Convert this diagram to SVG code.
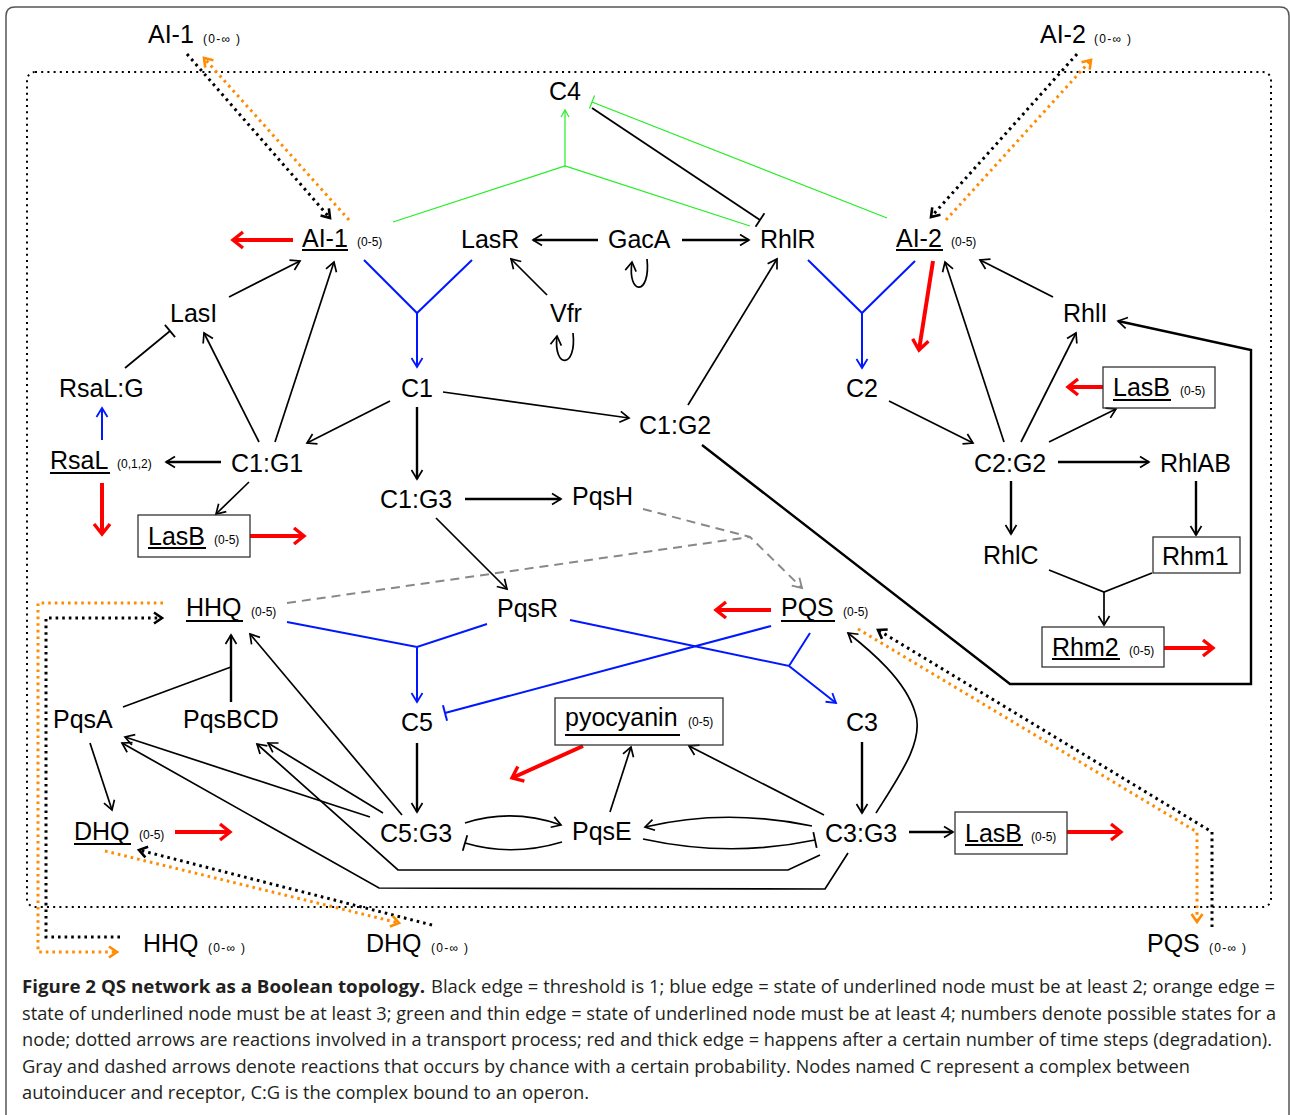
<svg xmlns="http://www.w3.org/2000/svg" width="1290" height="1115" viewBox="0 0 1290 1115">
<style>
.n{font-family:"Liberation Sans",Arial,sans-serif;font-size:25px;fill:#000}
.s{font-family:"Liberation Sans",Arial,sans-serif;font-size:12px;fill:#000}
.ul{stroke:#000;stroke-width:2}
.box{fill:none;stroke:#333;stroke-width:1.3}
.k{fill:none;stroke:#000;stroke-width:1.7}
.kk{fill:none;stroke:#000;stroke-width:2.4}
.b{fill:none;stroke:#0018ff;stroke-width:2}
.r{fill:none;stroke:#ff0000;stroke-width:4}
.g{fill:none;stroke:#22ee22;stroke-width:1.2}
.gy{fill:none;stroke:#888;stroke-width:2;stroke-dasharray:9 6}
.dk{fill:none;stroke:#000;stroke-width:3;stroke-dasharray:2.6 4}
.do{fill:none;stroke:#ff8c00;stroke-width:3;stroke-dasharray:2.6 4}
.cap{font-family:"Open Sans","Noto Sans",sans-serif;font-size:18px;fill:#231f20}
</style>
<defs>
<marker id="ak" markerUnits="userSpaceOnUse" orient="auto" refX="0" refY="0" markerWidth="20" markerHeight="20" overflow="visible"><path d="M-9,-5.5 L0,0 L-9,5.5" fill="none" stroke="#000" stroke-width="1.7"/></marker>
<marker id="ab" markerUnits="userSpaceOnUse" orient="auto" refX="0" refY="0" markerWidth="20" markerHeight="20" overflow="visible"><path d="M-9,-5.5 L0,0 L-9,5.5" fill="none" stroke="#0018ff" stroke-width="1.8"/></marker>
<marker id="ar" markerUnits="userSpaceOnUse" orient="auto" refX="0" refY="0" markerWidth="20" markerHeight="20" overflow="visible"><path d="M-10,-8 L0,0 L-10,8" fill="none" stroke="#ff0000" stroke-width="3.4"/></marker>
<marker id="ag" markerUnits="userSpaceOnUse" orient="auto" refX="0" refY="0" markerWidth="20" markerHeight="20" overflow="visible"><path d="M-7,-4 L0,0 L-7,4" fill="none" stroke="#22ee22" stroke-width="1.2"/></marker>
<marker id="agy" markerUnits="userSpaceOnUse" orient="auto" refX="0" refY="0" markerWidth="20" markerHeight="20" overflow="visible"><path d="M-9,-5.5 L0,0 L-9,5.5" fill="none" stroke="#888" stroke-width="1.8"/></marker>
<marker id="adk" markerUnits="userSpaceOnUse" orient="auto" refX="0" refY="0" markerWidth="20" markerHeight="20" overflow="visible"><path d="M-8,-5.5 L0,0 L-8,5.5" fill="none" stroke="#000" stroke-width="2.6"/></marker>
<marker id="ado" markerUnits="userSpaceOnUse" orient="auto" refX="0" refY="0" markerWidth="20" markerHeight="20" overflow="visible"><path d="M-8,-5.5 L0,0 L-8,5.5" fill="none" stroke="#ff8c00" stroke-width="2.6"/></marker>
<marker id="tk" markerUnits="userSpaceOnUse" orient="auto" refX="0" refY="0" markerWidth="20" markerHeight="20" overflow="visible"><path d="M0,-8 L0,8" fill="none" stroke="#000" stroke-width="1.8"/></marker>
<marker id="tb" markerUnits="userSpaceOnUse" orient="auto" refX="0" refY="0" markerWidth="20" markerHeight="20" overflow="visible"><path d="M0,-8 L0,8" fill="none" stroke="#0018ff" stroke-width="2"/></marker>
<marker id="tg" markerUnits="userSpaceOnUse" orient="auto" refX="0" refY="0" markerWidth="20" markerHeight="20" overflow="visible"><path d="M0,-7 L0,7" fill="none" stroke="#22ee22" stroke-width="1.2"/></marker>
</defs>
<rect width="1290" height="1115" fill="#fff"/>
<path d="M6,1115 L6,16 Q6,7 15,7 L1280,7 Q1289,7 1289,16 L1289,1115" fill="none" stroke="#555" stroke-width="1.5"/>
<rect x="27" y="72" width="1244" height="835" rx="8" fill="none" stroke="#000" stroke-width="2" stroke-dasharray="2 4.2"/>

<g id="connectors">
<path class="dk" d="M187,54 L330,218" marker-end="url(#adk)"/>
<path class="do" d="M349,220 L204,58" marker-end="url(#ado)"/>
<path class="dk" d="M1077,54 L931,217" marker-end="url(#adk)"/>
<path class="do" d="M946,220 L1091,60" marker-end="url(#ado)"/>
<path class="dk" d="M120,937 L46,937 L46,618 L162,618" marker-end="url(#adk)"/>
<path class="do" d="M163,603 L38,603 L38,952 L117,952" marker-end="url(#ado)"/>
<path class="dk" d="M432,925 L139,850" marker-end="url(#adk)"/>
<path class="do" d="M105,851 L399,923" marker-end="url(#ado)"/>
<path class="dk" d="M1212,927 L1212,832 L878,630" marker-end="url(#adk)"/>
<path class="do" d="M858,629 L1197,832 L1197,922" marker-end="url(#ado)"/>
<path class="g" d="M393,222 L565,166 L750,226"/>
<path class="g" d="M565,166 L565,110" marker-end="url(#ag)"/>
<path class="g" d="M887,218 L592,102" marker-end="url(#tg)"/>
<path class="k" d="M592,108 L760,220" marker-end="url(#tk)"/>
<path class="kk" d="M598,240 L533,240" marker-end="url(#ak)"/>
<path class="kk" d="M682,240 L749,240" marker-end="url(#ak)"/>
<path class="k" d="M547,295 L511,259" marker-end="url(#ak)"/>
<path class="k" d="M647,259 C651,296 627,296 632,262" marker-end="url(#ak)"/>
<path class="k" d="M573,333 C577,369 553,369 557,336" marker-end="url(#ak)"/>
<path class="b" d="M364,260 L417,313 L472,260 M417,313 L417,367" marker-end="url(#ab)"/>
<path class="b" d="M808,260 L862,313 L915,261 M862,313 L862,368" marker-end="url(#ab)"/>
<path class="b" d="M287,622 L417,647 L487,624 M417,647 L417,702" marker-end="url(#ab)"/>
<path class="b" d="M570,620 L789,666 L810,633 M789,666 L836,703" marker-end="url(#ab)"/>
<path class="b" d="M771,626 L445,713" marker-end="url(#tb)"/>
<path class="b" d="M102,440 L102,408" marker-end="url(#ab)"/>
<path class="r" d="M293,240 L233,240" marker-end="url(#ar)"/>
<path class="r" d="M933,261 L919,350" marker-end="url(#ar)"/>
<path class="r" d="M102,483 L102,534" marker-end="url(#ar)"/>
<path class="r" d="M250,536 L304,536" marker-end="url(#ar)"/>
<path class="r" d="M1103,387 L1068,387" marker-end="url(#ar)"/>
<path class="r" d="M1164,648 L1213,648" marker-end="url(#ar)"/>
<path class="r" d="M771,610 L716,610" marker-end="url(#ar)"/>
<path class="r" d="M583,746 L512,778" marker-end="url(#ar)"/>
<path class="r" d="M175,832 L230,832" marker-end="url(#ar)"/>
<path class="r" d="M1067,832 L1121,832" marker-end="url(#ar)"/>
<path class="k" d="M229,297 L300,261" marker-end="url(#ak)"/>
<path class="k" d="M275,442 L334,262" marker-end="url(#ak)"/>
<path class="k" d="M259,442 L204,333" marker-end="url(#ak)"/>
<path class="k" d="M125,368 L170,331" marker-end="url(#tk)"/>
<path class="kk" d="M221,462 L166,462" marker-end="url(#ak)"/>
<path class="k" d="M249,482 L216,514" marker-end="url(#ak)"/>
<path class="k" d="M390,401 L307,443" marker-end="url(#ak)"/>
<path class="kk" d="M417,407 L417,479" marker-end="url(#ak)"/>
<path class="k" d="M443,392 L629,418" marker-end="url(#ak)"/>
<path class="k" d="M688,405 L777,259" marker-end="url(#ak)"/>
<path class="kk" d="M702,445 L1010,684 L1251,684 L1251,350 L1118,321" marker-end="url(#ak)"/>
<path class="kk" d="M465,499 L561,499" marker-end="url(#ak)"/>
<path class="k" d="M436,518 L507,589" marker-end="url(#ak)"/>
<path class="gy" d="M643,509 L750,537 L802,588" marker-end="url(#agy)"/>
<path class="gy" d="M287,603 L750,537"/>
<path class="k" d="M889,401 L973,443" marker-end="url(#ak)"/>
<path class="k" d="M1004,442 L945,262" marker-end="url(#ak)"/>
<path class="k" d="M1021,442 L1076,333" marker-end="url(#ak)"/>
<path class="k" d="M1053,297 L980,260" marker-end="url(#ak)"/>
<path class="k" d="M1049,442 L1116,409" marker-end="url(#ak)"/>
<path class="kk" d="M1058,462 L1149,462" marker-end="url(#ak)"/>
<path class="kk" d="M1011,481 L1011,534" marker-end="url(#ak)"/>
<path class="kk" d="M1196,481 L1196,535" marker-end="url(#ak)"/>
<path class="k" d="M1049,570 L1104,592 L1152,573 M1104,592 L1104,625" marker-end="url(#ak)"/>
<path class="kk" d="M231,702 L231,635" marker-end="url(#ak)"/>
<path class="k" d="M123,707 L231,667"/>
<path class="k" d="M402,815 L250,634" marker-end="url(#ak)"/>
<path class="k" d="M383,813 L268,743" marker-end="url(#ak)"/>
<path class="k" d="M820,855 L788,870 L398,870 L257,744" marker-end="url(#ak)"/>
<path class="k" d="M370,817 L125,737" marker-end="url(#ak)"/>
<path class="k" d="M848,853 L825,889 L379,888 L122,743" marker-end="url(#ak)"/>
<path class="k" d="M90,743 L112,810" marker-end="url(#ak)"/>
<path class="kk" d="M417,743 L417,812" marker-end="url(#ak)"/>
<path class="k" d="M465,823 Q512,808 561,825" marker-end="url(#ak)"/>
<path class="k" d="M562,842 Q512,857 465,843" marker-end="url(#tk)"/>
<path class="k" d="M812,826 Q725,808 645,827" marker-end="url(#ak)"/>
<path class="k" d="M643,839 Q730,858 815,840" marker-end="url(#tk)"/>
<path class="k" d="M610,812 L631,747" marker-end="url(#ak)"/>
<path class="k" d="M824,815 L689,746" marker-end="url(#ak)"/>
<path class="kk" d="M862,742 L862,813" marker-end="url(#ak)"/>
<path class="k" d="M876,813 C900,775 925,740 915,712 C905,680 872,652 848,633" marker-end="url(#ak)"/>
<path class="kk" d="M909,832 L953,832" marker-end="url(#ak)"/>
</g>

<g id="AI1_ext"><text class="n" x="148" y="43">AI-1</text><text class="s" x="203" y="43" textLength="37" lengthAdjust="spacing">(0-∞ )</text></g>
<g id="AI2_ext"><text class="n" x="1040" y="43">AI-2</text><text class="s" x="1094" y="43" textLength="37" lengthAdjust="spacing">(0-∞ )</text></g>
<g id="C4"><text class="n" x="549" y="100">C4</text></g>
<g id="AI1"><text class="n" x="302" y="247">AI-1</text><line class="ul" x1="302" y1="250" x2="348" y2="250"/><text class="s" x="357" y="246">(0-5)</text></g>
<g id="LasR"><text class="n" x="461" y="248">LasR</text></g>
<g id="GacA"><text class="n" x="608" y="248">GacA</text></g>
<g id="RhlR"><text class="n" x="760" y="248">RhlR</text></g>
<g id="AI2"><text class="n" x="896" y="247">AI-2</text><line class="ul" x1="896" y1="250" x2="943" y2="250"/><text class="s" x="951" y="246">(0-5)</text></g>
<g id="LasI"><text class="n" x="170" y="322">LasI</text></g>
<g id="Vfr"><text class="n" x="550" y="322">Vfr</text></g>
<g id="RhlI"><text class="n" x="1063" y="322">RhlI</text></g>
<g id="RsaLG"><text class="n" x="59" y="397">RsaL:G</text></g>
<g id="C1"><text class="n" x="401" y="397">C1</text></g>
<g id="C2"><text class="n" x="846" y="397">C2</text></g>
<g id="LasB_R"><rect class="box" x="1103" y="367" width="112" height="41"/><text class="n" x="1113" y="396">LasB</text><line class="ul" x1="1113" y1="400" x2="1171" y2="400"/><text class="s" x="1180" y="395">(0-5)</text></g>
<g id="C1G2"><text class="n" x="639" y="434">C1:G2</text></g>
<g id="RsaL"><text class="n" x="50" y="469">RsaL</text><line class="ul" x1="50" y1="473" x2="110" y2="473"/><text class="s" x="117" y="468">(0,1,2)</text></g>
<g id="C1G1"><text class="n" x="231" y="472">C1:G1</text></g>
<g id="C2G2"><text class="n" x="974" y="472">C2:G2</text></g>
<g id="RhlAB"><text class="n" x="1160" y="472">RhlAB</text></g>
<g id="C1G3"><text class="n" x="380" y="508">C1:G3</text></g>
<g id="PqsH"><text class="n" x="572" y="505">PqsH</text></g>
<g id="LasB_L"><rect class="box" x="138" y="515" width="112" height="42"/><text class="n" x="148" y="545">LasB</text><line class="ul" x1="148" y1="548" x2="206" y2="548"/><text class="s" x="214" y="544">(0-5)</text></g>
<g id="RhlC"><text class="n" x="983" y="564">RhlC</text></g>
<g id="Rhm1"><rect class="box" x="1153" y="537" width="87" height="36"/><text class="n" x="1162" y="565">Rhm1</text></g>
<g id="HHQ"><text class="n" x="186" y="616">HHQ</text><line class="ul" x1="186" y1="621" x2="243" y2="621"/><text class="s" x="251" y="616">(0-5)</text></g>
<g id="PqsR"><text class="n" x="497" y="617">PqsR</text></g>
<g id="PQS"><text class="n" x="781" y="616">PQS</text><line class="ul" x1="781" y1="621" x2="835" y2="621"/><text class="s" x="843" y="616">(0-5)</text></g>
<g id="Rhm2"><rect class="box" x="1042" y="627" width="122" height="40"/><text class="n" x="1052" y="656">Rhm2</text><line class="ul" x1="1052" y1="659" x2="1120" y2="659"/><text class="s" x="1129" y="655">(0-5)</text></g>
<g id="PqsA"><text class="n" x="53" y="728">PqsA</text></g>
<g id="PqsBCD"><text class="n" x="183" y="728">PqsBCD</text></g>
<g id="C5"><text class="n" x="401" y="731">C5</text></g>
<g id="pyocyanin"><rect class="box" x="555" y="698" width="168" height="47"/><text class="n" x="565" y="726">pyocyanin</text><line class="ul" x1="565" y1="735" x2="680" y2="735"/><text class="s" x="688" y="726">(0-5)</text></g>
<g id="C3"><text class="n" x="846" y="731">C3</text></g>
<g id="DHQ"><text class="n" x="74" y="840">DHQ</text><line class="ul" x1="74" y1="844" x2="131" y2="844"/><text class="s" x="139" y="839">(0-5)</text></g>
<g id="C5G3"><text class="n" x="380" y="842">C5:G3</text></g>
<g id="PqsE"><text class="n" x="572" y="840">PqsE</text></g>
<g id="C3G3"><text class="n" x="825" y="842">C3:G3</text></g>
<g id="LasB_B"><rect class="box" x="955" y="812" width="112" height="42"/><text class="n" x="965" y="842">LasB</text><line class="ul" x1="965" y1="845" x2="1023" y2="845"/><text class="s" x="1031" y="841">(0-5)</text></g>
<g id="HHQ_ext"><text class="n" x="143" y="952">HHQ</text><text class="s" x="208" y="952" textLength="37" lengthAdjust="spacing">(0-∞ )</text></g>
<g id="DHQ_ext"><text class="n" x="366" y="952">DHQ</text><text class="s" x="431" y="952" textLength="37" lengthAdjust="spacing">(0-∞ )</text></g>
<g id="PQS_ext"><text class="n" x="1147" y="952">PQS</text><text class="s" x="1209" y="952" textLength="37" lengthAdjust="spacing">(0-∞ )</text></g>

<g id="caption">
<text class="cap" x="22" y="993" font-weight="bold" textLength="403" lengthAdjust="spacingAndGlyphs">Figure 2 QS network as a Boolean topology.</text>
<text class="cap" x="431" y="993" textLength="844" lengthAdjust="spacingAndGlyphs">Black edge = threshold is 1; blue edge = state of underlined node must be at least 2; orange edge =</text>
<text class="cap" x="22" y="1020" textLength="1254" lengthAdjust="spacingAndGlyphs">state of underlined node must be at least 3; green and thin edge = state of underlined node must be at least 4; numbers denote possible states for a</text>
<text class="cap" x="22" y="1046" textLength="1250" lengthAdjust="spacingAndGlyphs">node; dotted arrows are reactions involved in a transport process; red and thick edge = happens after a certain number of time steps (degradation).</text>
<text class="cap" x="22" y="1073" textLength="1168" lengthAdjust="spacingAndGlyphs">Gray and dashed arrows denote reactions that occurs by chance with a certain probability. Nodes named C represent a complex between</text>
<text class="cap" x="22" y="1099" textLength="567" lengthAdjust="spacingAndGlyphs">autoinducer and receptor, C:G is the complex bound to an operon.</text>
</g>
</svg>
